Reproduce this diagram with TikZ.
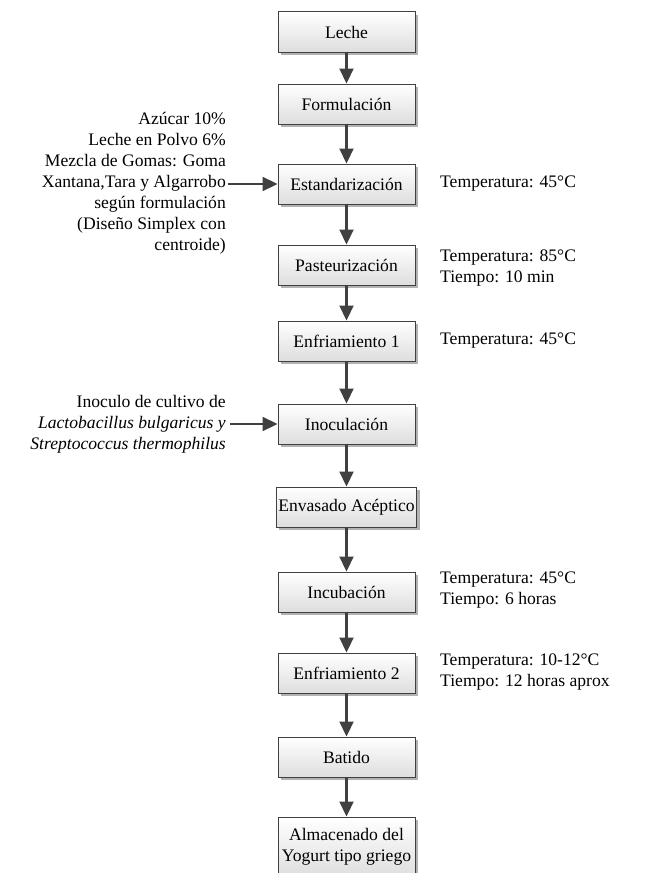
\documentclass[tikz,border=0pt]{standalone}
\usepackage{fontspec}
\setmainfont{Liberation Serif}
\usetikzlibrary{arrows.meta,shadows}
\definecolor{linec}{HTML}{404040}
\tikzset{
  procbox/.style={draw=linec, line width=1bp, top color=white, bottom color=black!13,
    minimum width=137bp, minimum height=40bp, inner sep=2bp, align=center,
    drop shadow={shadow xshift=3bp, shadow yshift=-3bp, opacity=0.3, fill=black}},
  flow/.style={draw=linec, line width=2.2bp, -{Triangle[length=15bp,width=14bp]}},
  note/.style={align=left, anchor=west, inner sep=0pt},
  lnote/.style={align=right, anchor=east, inner sep=0pt},
  every node/.style={font=\fontsize{17.6bp}{21bp}\selectfont}
}
\begin{document}
\begin{tikzpicture}[x=1bp,y=-1bp]
\clip (0,0) rectangle (660,873);
\fill[white] (0,0) rectangle (660,873);
\node[procbox] (b1) at (346.5,32) {Leche};
\node[procbox] (b2) at (346.5,104) {Formulación};
\node[procbox] (b3) at (346.5,184) {Estandarización};
\node[procbox] (b4) at (346.5,265) {Pasteurización};
\node[procbox] (b5) at (346.5,341) {Enfriamiento 1};
\node[procbox] (b6) at (346.5,424) {Inoculación};
\node[procbox] (b7) at (346.5,507) {Envasado Acéptico};
\node[procbox] (b8) at (346.5,592) {Incubación};
\node[procbox] (b9) at (346.5,673) {Enfriamiento 2};
\node[procbox] (b10) at (346.5,757) {Batido};
\node[procbox, minimum height=60bp] (b11) at (346.5,847) {Almacenado del\\Yogurt tipo griego};
\foreach \a/\b in {b1/b2,b2/b3,b3/b4,b4/b5,b5/b6,b6/b7,b7/b8,b8/b9,b9/b10,b10/b11}
  \draw[flow] (\a) -- (\b);
% right notes
\node[note] (n3) at (440,184) {Temperatura: 45°C};
\node[note] (n4) at (440,268) {Temperatura: 85°C\\Tiempo: 10 min};
\node[note] (n5) at (440,341) {Temperatura: 45°C};
\node[note] (n8) at (440,590) {Temperatura: 45°C\\Tiempo: 6 horas};
\node[note] (n9) at (440,672) {Temperatura: 10-12°C\\Tiempo: 12 horas aprox};
% left notes
\node[lnote] (l3) at (226,183) {Azúcar 10\%\\Leche en Polvo 6\%\\Mezcla de Gomas: Goma\\Xantana,Tara y Algarrobo\\según formulación\\(Diseño Simplex con\\centroide)};
\coordinate (l3a) at (228,184);
\draw[flow] (l3a) -- (b3.west);
\node[lnote] (l6) at (226,424) {Inoculo de cultivo de\\\textit{Lactobacillus bulgaricus y}\\\textit{Streptococcus thermophilus}};
\coordinate (l6a) at (230,424);
\draw[flow] (l6a) -- (b6.west);
\end{tikzpicture}
\end{document}
